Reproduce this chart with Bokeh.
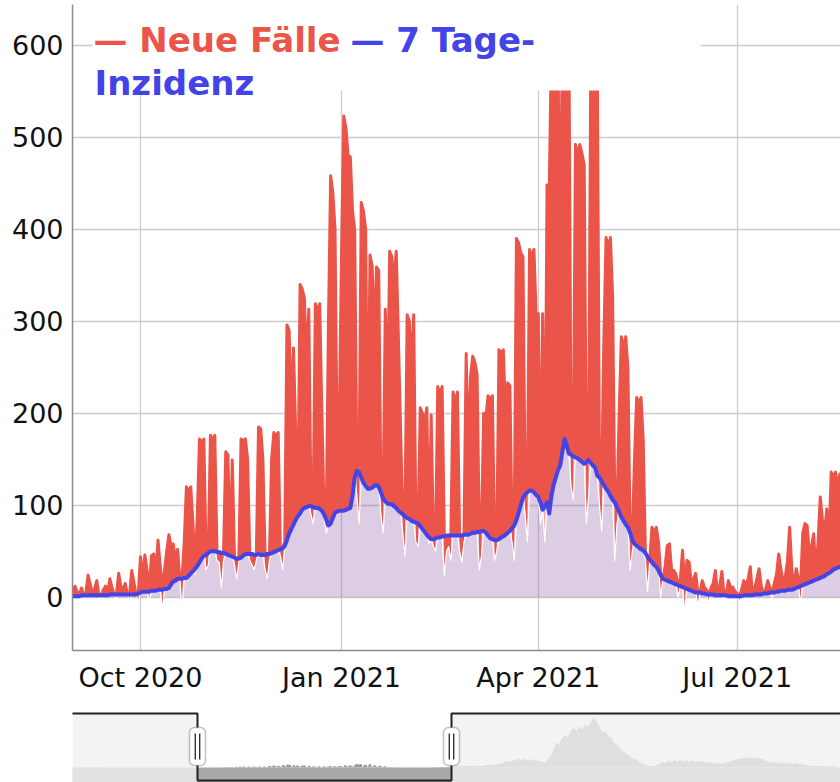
import pandas as pd
from bokeh.plotting import figure
from bokeh.models import Range1d, FixedTicker, DatetimeTickFormatter, BoxAnnotation, Label
from bokeh.layouts import column
from bokeh.embed import file_html
from bokeh.resources import INLINE

# ---------------- data ----------------
start_date = "2020-08-31"   # first day of the daily series

neue_faelle = [
    8, 12, 6, 3, 10, 2, 5, 24, 14, 4, 9, 18, 2, -3, 8,
    12, 5, 20, 10, 2, -2, 26, 12, 8, 15, 4, -4, 29, 16, 2,
    -5, 44, 20, 46, 30, -5, 45, 47, 25, 62, 35, -14, 30, 50, 68,
    55, 58, 40, 52, 20, -14, 60, 120, 115, 120, 80, 25, 90, 172, 168,
    172, 30, 35, 176, 170, 176, 40, 38, 10, 40, 158, 155, 42, 149, 35,
    20, 38, 172, 170, 172, 150, 40, 35, 30, 40, 185, 183, 150, 30, 20,
    40, 150, 179, 175, 179, 45, 30, 60, 296, 290, 200, 271, 180, 92, 340,
    335, 325, 250, 313, 90, 80, 319, 310, 319, 200, 85, 70, 300, 458, 440,
    400, 153, 200, 380, 523, 510, 480, 479, 420, 399, 110, 80, 429, 420, 400,
    137, 372, 360, 280, 359, 355, 90, 70, 313, 200, 376, 370, 340, 376, 282,
    180, 70, 45, 307, 300, 250, 307, 60, 55, 206, 200, 190, 206, 58, 198,
    55, 50, 229, 220, 229, 23, 50, 55, 40, 223, 210, 223, 50, 38, 60,
    265, 150, 240, 262, 255, 242, 30, 45, 200, 195, 219, 215, 219, 40, 50,
    269, 265, 269, 200, 233, 230, 60, 40, 390, 385, 374, 370, 90, 60, 378,
    370, 378, 308, 308, 80, 308, 60, 448, 440, 600, 590, 610, 600, 331, 620,
    610, 600, 620, 120, 106, 492, 480, 492, 482, 470, 79, 110, 580, 590, 570,
    580, 100, 72, 280, 391, 380, 391, 327, 40, 80, 200, 283, 270, 283, 250,
    30, 50, 150, 217, 210, 217, 172, 40, 6, 40, 76, 70, 76, 60, 0,
    20, 33, 56, 58, 29, 29, 25, 0, 20, 51, -18, 40, 38, 15, 20,
    26, -10, 5, 18, 11, 8, -5, 10, 15, 29, 4, 12, 28, -3, 5,
    18, 10, 11, 6, 4, -5, 8, 18, 12, 20, 33, 0, 10, 20, 31,
    12, 3, 8, 18, 10, 0, 15, 25, 47, 30, 18, 22, 40, 76, 30,
    11, 31, 20, -7, 70, 80, 78, 47, 55, 69, 25, 60, 109, 84, 70,
    96, 55, 136, 130, 136, 120, 134, 110,
]

inzidenz = [
    1, 1, 1, 1, 2, 2, 2, 2, 2, 2, 2, 2, 2, 2, 2,
    2, 2, 3, 3, 3, 3, 3, 3, 3, 3, 3, 3, 3, 3, 3,
    4, 5, 6, 6, 6, 6, 7, 7, 7, 8, 8, 8, 9, 9, 10,
    14, 17, 18, 20, 20, 20, 21, 21, 23, 26, 28, 31, 34, 38, 42,
    45, 46, 48, 50, 50, 50, 49, 49, 48, 48, 47, 46, 45, 44, 43,
    42, 42, 43, 45, 47, 47, 47, 47, 46, 46, 47, 46, 46, 46, 47,
    47, 48, 49, 50, 51, 52, 53, 56, 62, 69, 74, 79, 84, 88, 91,
    95, 97, 98, 99, 99, 98, 97, 97, 96, 94, 90, 84, 78, 80, 86,
    92, 93, 94, 94, 94, 95, 96, 97, 110, 130, 137, 136, 130, 124, 121,
    118, 118, 119, 121, 122, 120, 114, 107, 104, 102, 101, 101, 99, 97, 94,
    92, 90, 88, 86, 85, 83, 82, 81, 80, 77, 74, 71, 68, 65, 63,
    63, 64, 65, 65, 66, 66, 67, 67, 67, 67, 67, 67, 67, 67, 68,
    68, 68, 69, 70, 70, 71, 71, 72, 72, 70, 67, 64, 63, 62, 62,
    63, 65, 66, 68, 70, 72, 75, 78, 84, 92, 100, 108, 112, 114, 116,
    116, 114, 111, 109, 103, 95, 99, 103, 91, 110, 122, 130, 138, 143, 158,
    172, 165, 156, 155, 153, 152, 151, 149, 147, 145, 147, 149, 146, 143, 141,
    132, 130, 126, 122, 118, 115, 110, 106, 103, 98, 93, 87, 83, 79, 76,
    70, 62, 58, 56, 54, 52, 51, 48, 44, 41, 38, 35, 33, 29, 24,
    20, 19, 18, 17, 16, 15, 14, 13, 12, 11, 10, 9, 8, 7, 6,
    5, 5, 5, 4, 4, 3, 3, 3, 3, 2, 2, 2, 2, 2, 2,
    1, 1, 1, 1, 1, 1, 1, 2, 2, 2, 2, 2, 3, 3, 3,
    3, 4, 4, 4, 5, 5, 5, 6, 6, 7, 7, 7, 8, 8, 8,
    9, 10, 11, 12, 13, 14, 15, 16, 17, 18, 19, 20, 21, 22, 23,
    25, 26, 28, 30, 31, 32, 33, 34,
]

x_tick_dates = ["2020-10-01", "2021-01-01", "2021-04-01", "2021-07-01"]
y_ticks = [0, 100, 200, 300, 400, 500, 600]

# range slider: data before and after the daily window
pre_start = "2020-03-09"      # weekly
pre_values = [5, 20, 45, 60, 50, 35, 25, 15, 10, 8, 5, 4, 3, 3, 4, 5, 4, 6, 8, 10, 12, 10, 9, 10, 8]
post_start = "2021-08-18"     # every 4 days
post_values = [
    140, 200, 160, 260, 220, 300, 250, 340, 280, 300, 260, 350, 420, 380, 520, 480,
    650, 700, 900, 1100, 950, 1400, 1150, 1550, 1300, 1500, 1250, 1450, 1200, 1350,
    1100, 1000, 800, 1300, 1900, 3000, 4300, 4000, 5000, 5600, 5200, 6300, 6900, 6400,
    7100, 6600, 7400, 7000, 7900, 8600, 8100, 7000, 6000, 6300, 5400, 5200, 4300, 3900,
    3300, 2900, 2400, 2100, 1700, 1500, 1200, 900, 600, 400, 250, 200, 300, 450, 700,
    1000, 800, 1200, 900, 1300, 1000, 1350, 1050, 1300, 1000, 1250, 950, 1200, 900,
    1100, 800, 900, 700, 800, 650, 750, 700, 900, 1000, 1200, 1350, 1450, 1550, 1650,
    1700, 1750, 1700, 1730, 1600, 1500, 1300, 1100, 900, 1000, 750, 950, 700, 900, 650,
    850, 600, 800, 550, 700, 450, 400, 300, 250, 300, 220, 250, 200, 180, 200, 160, 150,
]

RED = "#EB5449"
BLUE = "#4343E8"
LAV = "#8E5AA5"

n = min(len(neue_faelle), len(inzidenz))
dates = pd.date_range(start_date, periods=n, freq="D")
cases = neue_faelle[:n]
incid = inzidenz[:n]
lower = [min(a, b) for a, b in zip(cases, incid)]   # lavender top
upper = [max(a, b) for a, b in zip(cases, incid)]   # red top


def ms(ts):
    return pd.Timestamp(ts).value / 1e6


# ---- pixel geometry of the main plot (page pixels) ----
D0 = pd.Timestamp(start_date)
PX_DAY = 2.1857
DAY_AT_72 = -0.11


def ref_x_to_date(px):
    return D0 + pd.Timedelta(days=(px - 72) / PX_DAY + DAY_AT_72)


Y_ZERO_PX = 596.7
PX_UNIT = 0.92


def ref_y_to_val(py):
    return (Y_ZERO_PX - py) / PX_UNIT


W = 840
x_start = ref_x_to_date(72)
x_end = ref_x_to_date(W)
y_top = ref_y_to_val(4)
y_bot = ref_y_to_val(650)

p = figure(width=W, height=700, x_axis_type="datetime",
           x_range=Range1d(x_start, x_end), y_range=Range1d(y_bot, y_top),
           output_backend="svg", toolbar_location=None,
           min_border_left=72, min_border_right=0, min_border_top=4, min_border_bottom=50)
p.outline_line_color = None
p.background_fill_color = "white"

# lavender: area from zero to new cases
p.varea(x=dates, y1=0, y2=cases, fill_color=LAV, fill_alpha=0.3)
# red: area between new cases and 7-day incidence
p.varea(x=dates, y1=cases, y2=incid, fill_color=RED, fill_alpha=1.0)
p.line(x=dates, y=upper, line_color=RED, line_width=3, line_join="round")
p.line(x=dates, y=lower, line_color="white", line_width=1.2, line_join="round")
p.line(x=dates, y=incid, line_color=BLUE, line_width=4, line_join="round")

# axes
p.xaxis.ticker = FixedTicker(ticks=[ms(d) for d in x_tick_dates])
p.xaxis.formatter = DatetimeTickFormatter(months="%b %Y", days="%b %Y", years="%b %Y")
p.yaxis.ticker = FixedTicker(ticks=y_ticks)
for ax in (p.xaxis[0], p.yaxis[0]):
    ax.major_label_text_font = "DejaVu Sans"
    ax.major_label_text_font_size = "27px"
    ax.major_label_text_color = "#111111"
    ax.axis_line_color = "#8c8c8c"
    ax.axis_line_width = 1.5
    ax.major_tick_line_color = None
    ax.minor_tick_line_color = None
    ax.major_tick_out = 0
    ax.major_tick_in = 0
p.yaxis.major_label_standoff = 9
p.xaxis.major_label_standoff = 11
p.xgrid.ticker = p.xaxis.ticker
p.ygrid.ticker = p.yaxis.ticker
p.grid.grid_line_color = "#cccccc"
p.grid.grid_line_width = 1.3

# legend box (white, covers top of plot)
legend_box = BoxAnnotation(left=ms(ref_x_to_date(92)), right=ms(ref_x_to_date(700)),
                           bottom=ref_y_to_val(90), top=y_top + 50,
                           fill_color="white", fill_alpha=1.0, line_color=None)
p.add_layout(legend_box)
FONT = "DejaVu Sans"
for txt, px, py, col in [("— Neue Fälle", 93, 39.5, RED),
                         ("— 7 Tage-", 350, 39.5, BLUE),
                         ("Inzidenz", 94, 82, BLUE)]:
    p.add_layout(Label(x=ms(ref_x_to_date(px)), y=ref_y_to_val(py), text=txt,
                       text_font=FONT, text_font_size="34px", text_font_style="bold",
                       text_color=col, text_baseline="alphabetic", text_align="left"))

# ---------------- range slider ----------------
win_left = x_start
win_right = ref_x_to_date(840)
SL_PX_DAY = 254 / ((win_right - win_left).total_seconds() / 86400)
sl_start = win_left - pd.Timedelta(days=125 / SL_PX_DAY)
sl_end = win_left + pd.Timedelta(days=(W - 197) / SL_PX_DAY)

SL_TOP, SL_BOT = 712, 782
SL_YMAX = 9500.0
SL_YMIN = -SL_YMAX * (SL_BOT - 767) / (767 - SL_TOP)


def sl_y(py):  # page y pixel -> slider value
    return SL_YMAX - (py - SL_TOP) / (SL_BOT - SL_TOP) * (SL_YMAX - SL_YMIN)


def sl_x(px):
    return win_left + pd.Timedelta(days=(px - 197) / SL_PX_DAY)


pre_dates = pd.date_range(pre_start, periods=len(pre_values), freq="7D")
post_dates = pd.date_range(post_start, periods=len(post_values), freq="4D")
s_dates = list(pre_dates) + list(dates) + list(post_dates)
s_vals = list(pre_values) + list(cases) + list(post_values)

p2 = figure(width=W, height=SL_BOT - 700, x_range=Range1d(sl_start, sl_end),
            y_range=Range1d(SL_YMIN, SL_YMAX), x_axis_location=None, y_axis_location=None,
            output_backend="svg", toolbar_location=None,
            min_border_left=72, min_border_right=0, min_border_top=SL_TOP - 700,
            min_border_bottom=0)
p2.outline_line_color = None
p2.grid.visible = False

p2.add_layout(BoxAnnotation(top=0, fill_color="#a9a9a9", fill_alpha=1.0, line_color=None))
p2.varea(x=s_dates, y1=0, y2=s_vals, fill_color="#9c9c9c", fill_alpha=1.0)

# masks over the non-selected parts
for l, r in [(sl_start, win_left), (win_right, sl_end)]:
    p2.add_layout(BoxAnnotation(left=ms(l), right=ms(r), fill_color="#f0f0f0",
                                fill_alpha=0.8, line_color=None))

yt = sl_y(713)
yb = sl_y(780)
r_out = p2.line(x=[sl_start, win_left, win_left, win_right, win_right, sl_end],
                y=[yt, yt, yb, yb, yt, yt], line_color="#222222", line_width=2)
r_out.level = "overlay"

for cx in (197, 451):
    hb = BoxAnnotation(left=ms(sl_x(cx - 8)), right=ms(sl_x(cx + 8)),
                       top=sl_y(727), bottom=sl_y(765), fill_color="white", fill_alpha=1.0,
                       line_color="#333333", line_width=1.5, level="overlay")
    try:
        hb.border_radius = 5
    except Exception:
        pass
    p2.add_layout(hb)
    for dx in (-2.2, 2.2):
        p2.add_layout(BoxAnnotation(left=ms(sl_x(cx + dx - 0.7)), right=ms(sl_x(cx + dx + 0.7)),
                                    top=sl_y(733), bottom=sl_y(759), fill_color="#333333",
                                    fill_alpha=1.0, line_color=None, level="overlay"))

layout = column(p, p2, spacing=0)
open("out.html", "w").write(file_html(layout, INLINE))
